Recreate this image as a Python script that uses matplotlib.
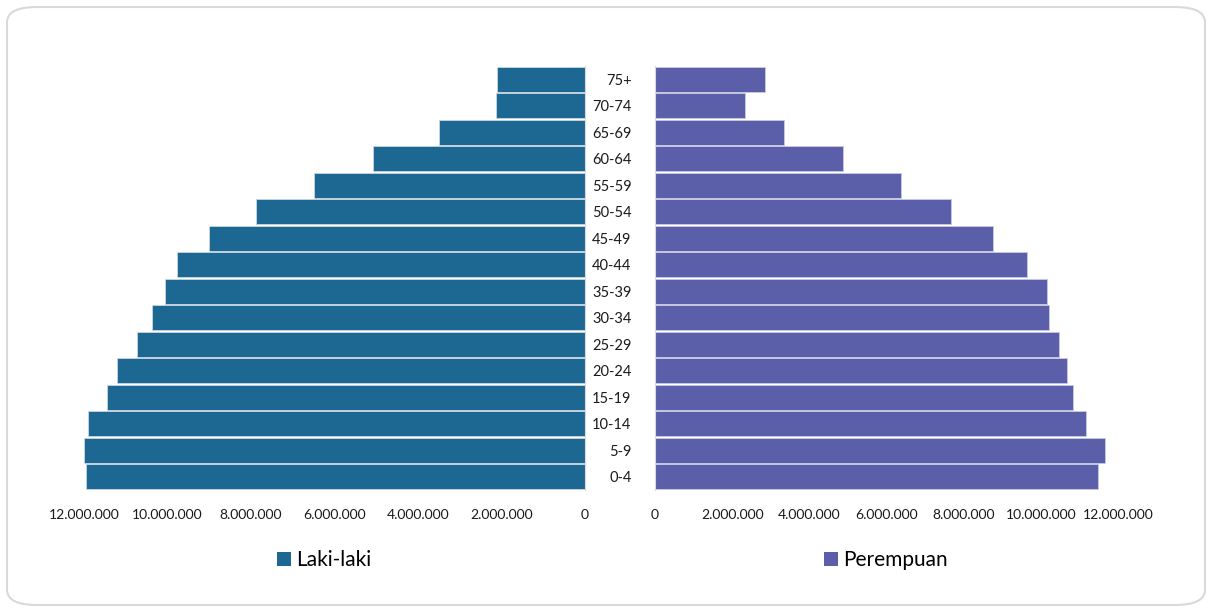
import matplotlib
matplotlib.use("Agg")
import matplotlib.pyplot as plt
from matplotlib.patches import FancyBboxPatch, Patch
from matplotlib.ticker import FuncFormatter

plt.rcParams['font.family'] = ['Lato', 'DejaVu Sans']

age_groups = ["0-4", "5-9", "10-14", "15-19", "20-24", "25-29", "30-34", "35-39",
              "40-44", "45-49", "50-54", "55-59", "60-64", "65-69", "70-74", "75+"]
male = [11950000, 12000000, 11900000, 11450000, 11210000, 10730000, 10370000, 10060000,
        9770000, 9010000, 7880000, 6490000, 5080000, 3500000, 2130000, 2110000]
female = [11480000, 11660000, 11170000, 10830000, 10670000, 10470000, 10210000, 10160000,
          9640000, 8760000, 7670000, 6370000, 4870000, 3340000, 2330000, 2850000]
x_ticks = [0, 2000000, 4000000, 6000000, 8000000, 10000000, 12000000]
series_names = ["Laki-laki", "Perempuan"]

male_color = "#1d6892"
female_color = "#5b5ea9"
W, H = 1210, 612

fig = plt.figure(figsize=(W / 100, H / 100), dpi=100)

# rounded card border
card = FancyBboxPatch((7 / W, 7 / H), 1198 / W, 598 / H,
                      boxstyle="round,pad=0,rounding_size=0.025",
                      transform=fig.transFigure, facecolor="white",
                      edgecolor="#d9d9d9", linewidth=1.5, zorder=-10)
fig.patches.append(card)

bottom = 1 - 490 / H
height = 424 / H
ax_l = fig.add_axes([84 / W, bottom, 501 / W, height])
ax_r = fig.add_axes([655 / W, bottom, 463 / W, height])

ypos = list(range(len(age_groups)))
ax_l.barh(ypos, male, height=0.93, color=male_color, edgecolor="#c8d6e2", linewidth=0.6)
ax_r.barh(ypos, female, height=0.93, color=female_color, edgecolor="#c9cae4", linewidth=0.6)

fmt = FuncFormatter(lambda v, p: f"{int(v):,}".replace(",", "."))
for ax in (ax_l, ax_r):
    ax.set_ylim(-0.5, len(age_groups) - 0.5)
    ax.set_xticks(x_ticks)
    ax.xaxis.set_major_formatter(fmt)
    ax.tick_params(axis="x", length=0, pad=14, labelsize=10, colors="#1a1a1a")
    for s in ax.spines.values():
        s.set_visible(False)
    ax.set_facecolor("none")

ax_l.set_xlim(12000000, 0)
ax_r.set_xlim(0, 12000000)
ax_l.set_yticks([])
ax_l.spines["right"].set_visible(True)
ax_l.spines["right"].set_color("#d9d9d9")
ax_r.spines["left"].set_visible(True)
ax_r.spines["left"].set_color("#d9d9d9")
ax_r.set_yticks(ypos)
ax_r.set_yticklabels(age_groups)
ax_r.tick_params(axis="y", length=0, pad=17, labelsize=10.5, colors="#1a1a1a")
for lbl in ax_r.get_yticklabels():
    lbl.set_horizontalalignment("right")

leg_kw = dict(frameon=False, fontsize=15, handlelength=0.65, handleheight=0.65,
              handletextpad=0.25, loc="center")
ax_l.legend(handles=[Patch(facecolor=male_color, label=series_names[0])],
            bbox_to_anchor=(324 / W, 1 - 560 / H), bbox_transform=fig.transFigure, **leg_kw)
ax_r.legend(handles=[Patch(facecolor=female_color, label=series_names[1])],
            bbox_to_anchor=(886 / W, 1 - 560 / H), bbox_transform=fig.transFigure, **leg_kw)

fig.savefig("out.png", dpi=100, facecolor="white")
